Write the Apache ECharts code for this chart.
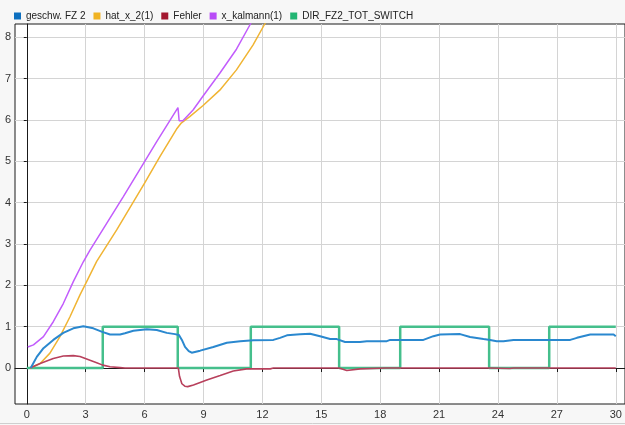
<!DOCTYPE html>
<html>
<head>
<meta charset="utf-8">
<script src="https://cdn.jsdelivr.net/npm/echarts@6/dist/echarts.min.js"></script>
<style>
  html, body { margin: 0; padding: 0; background: #f7f7f7; }
  #main { width: 625px; height: 425px; }
</style>
</head>
<body>
<div id="main"></div>
<script>
// tick labels
var xTicks = [0, 3, 6, 9, 12, 15, 18, 21, 24, 27, 30];
var yTicks = [0, 1, 2, 3, 4, 5, 6, 7, 8];

// geschw. FZ 2
var speedT = [0.2, 0.51, 0.85, 1.35, 1.86, 2.37, 2.88, 3.39, 3.81, 4.24, 4.75, 5.0, 5.43, 6.11, 6.62, 7.13, 7.55, 7.75, 7.9, 8.06, 8.25, 8.4, 8.83, 9.5, 10.19, 10.87, 11.55, 12.56, 12.9, 13.25, 13.92, 14.43, 14.94, 15.45, 15.79, 16.21, 16.97, 17.32, 18.34, 18.51, 20.2, 20.71, 21.05, 22.07, 22.58, 23.26, 23.6, 23.94, 24.28, 24.79, 27.68, 28.02, 28.7, 29.89, 30];
var speedV = [0, 0.27, 0.48, 0.68, 0.85, 0.96, 1.01, 0.96, 0.88, 0.81, 0.81, 0.84, 0.9, 0.94, 0.92, 0.85, 0.82, 0.8, 0.68, 0.51, 0.41, 0.37, 0.42, 0.51, 0.61, 0.65, 0.67, 0.68, 0.73, 0.79, 0.815, 0.83, 0.77, 0.7, 0.7, 0.63, 0.63, 0.65, 0.65, 0.68, 0.68, 0.77, 0.81, 0.82, 0.75, 0.7, 0.68, 0.65, 0.65, 0.68, 0.68, 0.73, 0.81, 0.81, 0.77];

// hat_x_2(1)
var hatT = [0.17, 0.68, 1.18, 1.69, 2.2, 2.71, 3.05, 3.56, 4.58, 6.0, 6.78, 7.63, 7.88, 8.3, 8.98, 9.83, 10.68, 11.52, 12.12, 12.5];
var hatV = [0, 0.11, 0.36, 0.76, 1.24, 1.77, 2.09, 2.58, 3.34, 4.47, 5.11, 5.78, 5.93, 6.08, 6.35, 6.72, 7.21, 7.81, 8.32, 8.6];

// Fehler
var errT = [0.17, 0.68, 1.35, 1.86, 2.37, 2.71, 3.05, 3.56, 3.87, 4.24, 4.75, 5.0, 7.72, 7.78, 7.9, 8.05, 8.2, 8.49, 9.17, 9.85, 10.52, 11.2, 12.4, 12.56, 15.9, 15.95, 16.3, 16.98, 18.3, 23.55, 23.6, 24.6, 24.8, 30];
var errV = [0, 0.11, 0.23, 0.29, 0.3, 0.28, 0.22, 0.13, 0.07, 0.03, 0.01, 0, 0, -0.2, -0.38, -0.44, -0.45, -0.41, -0.29, -0.18, -0.07, -0.02, -0.02, 0, 0, -0.04, -0.06, -0.02, 0, 0, -0.01, -0.01, 0, 0];

// x_kalmann(1)
var kalT = [0.05, 0.34, 0.85, 1.35, 1.86, 2.37, 2.88, 3.22, 4.07, 4.91, 6.0, 6.61, 7.7, 7.76, 7.95, 8.47, 8.98, 9.83, 10.68, 11.39, 11.7];
var kalV = [0.51, 0.56, 0.76, 1.12, 1.56, 2.09, 2.57, 2.85, 3.5, 4.14, 4.99, 5.47, 6.3, 5.98, 5.98, 6.24, 6.58, 7.13, 7.71, 8.32, 8.6];

// DIR_FZ2_TOT_SWITCH
var dirT = [0, 3.87, 3.87, 7.69, 7.69, 11.41, 11.41, 15.91, 15.91, 19.02, 19.02, 23.55, 23.55, 26.61, 26.61, 30];
var dirV = [0, 0, 1, 1, 0, 0, 1, 1, 0, 0, 1, 1, 0, 0, 1, 1];

function pairs(t, v) {
  var out = [];
  for (var i = 0; i < t.length; i++) {
    out.push([t[i], v[i]]);
  }
  return out;
}

var chart = echarts.init(document.getElementById('main'));

function lineSeries(name, t, v, color, width, z) {
  return {
    name: name,
    type: 'line',
    data: pairs(t, v),
    showSymbol: false,
    symbol: 'none',
    clip: true,
    z: z,
    lineStyle: { color: color, width: width },
    itemStyle: { color: color }
  };
}

chart.setOption({
  backgroundColor: '#f7f7f7',
  animation: false,
  textStyle: { fontFamily: 'Liberation Sans, Arial, sans-serif' },
  legend: {
    left: 9,
    top: 6,
    icon: 'rect',
    itemWidth: 7,
    itemHeight: 7,
    itemGap: 8,
    textStyle: { fontSize: 10, color: '#222' },
    data: [
      { name: 'geschw. FZ 2', itemStyle: { color: '#0d6fbf' } },
      { name: 'hat_x_2(1)', itemStyle: { color: '#f0b323' } },
      { name: 'Fehler', itemStyle: { color: '#a3172f' } },
      { name: 'x_kalmann(1)', itemStyle: { color: '#b84cf7' } },
      { name: 'DIR_FZ2_TOT_SWITCH', itemStyle: { color: '#22b573' } }
    ]
  },
  grid: {
    left: 15,
    top: 24,
    right: -1,
    bottom: 21,
    show: true,
    backgroundColor: '#ffffff',
    borderColor: '#1a1a1a',
    borderWidth: 1
  },
  xAxis: {
    type: 'value',
    min: -0.6,
    max: 30.47,
    axisLine: { show: true, lineStyle: { color: '#1a1a1a' } },
    axisTick: { show: true, length: 4, customValues: xTicks, lineStyle: { color: '#1a1a1a' } },
    axisLabel: { customValues: xTicks, fontSize: 11, color: '#333', margin: 5 },
    splitLine: { show: true, lineStyle: { color: '#d4d4d4', width: 1 } }
  },
  yAxis: {
    type: 'value',
    min: -0.87,
    max: 8.32,
    axisLine: { show: true, lineStyle: { color: '#1a1a1a' } },
    axisTick: { show: true, length: 3, customValues: yTicks, lineStyle: { color: '#1a1a1a' } },
    axisLabel: { customValues: yTicks, fontSize: 11, color: '#333', margin: 4 },
    splitLine: { show: true, lineStyle: { color: '#d4d4d4', width: 1 } }
  },
  graphic: [{
    type: 'line',
    shape: { x1: 0, y1: 423.5, x2: 625, y2: 423.5 },
    style: { stroke: '#cfcfcf', lineWidth: 1 },
    silent: true
  }],
  series: [
    lineSeries('geschw. FZ 2', speedT, speedV, '#2a88cf', 2, 4),
    lineSeries('hat_x_2(1)', hatT, hatV, '#f0b433', 1.5, 3),
    lineSeries('Fehler', errT, errV, '#b8405c', 1.6, 3),
    lineSeries('x_kalmann(1)', kalT, kalV, '#c25dfc', 1.5, 3),
    lineSeries('DIR_FZ2_TOT_SWITCH', dirT, dirV, '#45bf8c', 2.5, 2)
  ]
});
</script>
</body>
</html>
